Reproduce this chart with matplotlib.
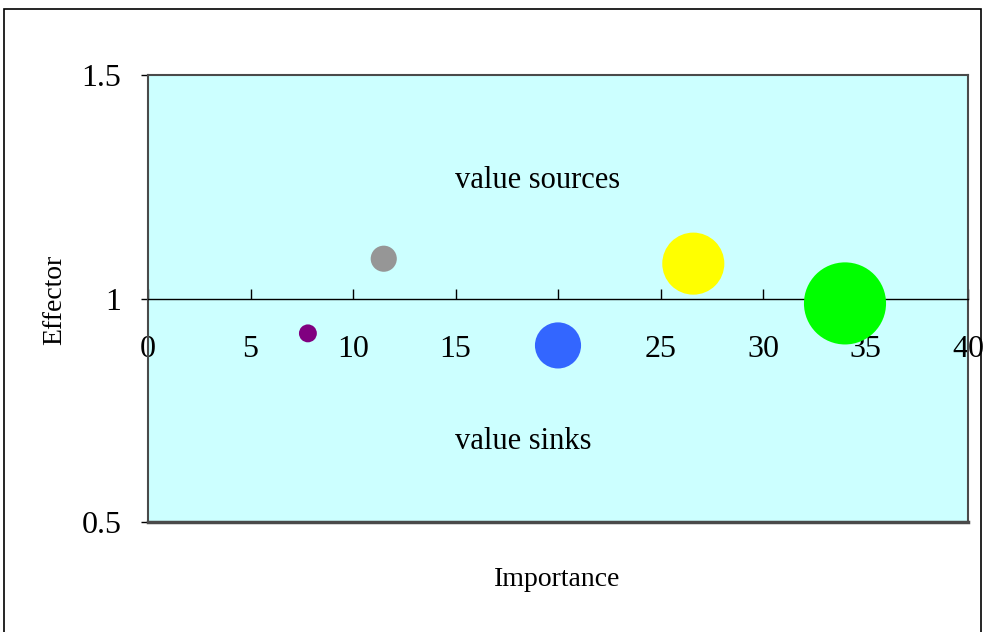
import matplotlib.pyplot as plt
from matplotlib.patches import Rectangle

# bubble data: importance, effector, bubble size
importance = [7.8, 11.5, 20.0, 26.6, 34.0]
effector = [0.922, 1.089, 0.895, 1.078, 0.989]
bubble_size = [8, 17, 53, 96, 168]
colors = ['#800080', '#969696', '#3366FF', '#FFFF00', '#00FF00']

x_ticks = [0, 5, 10, 15, 20, 25, 30, 35, 40]
y_ticks = [0.5, 1, 1.5]

plt.rcParams['font.family'] = ['Liberation Serif', 'DejaVu Serif']

fig = plt.figure(figsize=(9.84, 6.32), dpi=100)
ax = fig.add_axes([148/984, 1-522/632, 820/984, 447/632])
ax.set_facecolor('#CCFFFF')
ax.set_xlim(0, 40)
ax.set_ylim(0.5, 1.5)

# outer frame of the chart
fig.patches.append(Rectangle((4/984, -0.1), 977/984, 1.1-9/632, transform=fig.transFigure,
                             fill=False, edgecolor='black', linewidth=1.2))

ax.scatter(importance, effector, s=[v*20.8 for v in bubble_size], c=colors,
           edgecolors='none', zorder=3)

# x axis crosses at effector = 1
ax.spines['bottom'].set_position(('data', 1))
ax.spines['bottom'].set_color('black')
ax.spines['bottom'].set_linewidth(1.0)
for side in ['left', 'top', 'right']:
    ax.spines[side].set_color('#4a4a4a')
    ax.spines[side].set_linewidth(1.5)
ax.axhline(0.5, color='#4a4a4a', linewidth=2.5, clip_on=False, zorder=4)

ax.set_xticks(x_ticks)
ax.set_xticklabels([str(t) for t in x_ticks])
ax.set_yticks(y_ticks)
ax.set_yticklabels(['0.5', '1', '1.5'])
ax.tick_params(axis='x', direction='in', length=7, width=1, pad=26, labelsize=23)
ax.tick_params(axis='y', direction='out', length=5, width=1, pad=14, labelsize=23)

ax.text(19.0, 1.265, 'value sources', ha='center', va='center', fontsize=22)
ax.text(18.3, 0.68, 'value sinks', ha='center', va='center', fontsize=22)

fig.text(557/984, 1-580/632, 'Importance', ha='center', va='center', fontsize=20)
fig.text(55/984, 1-300/632, 'Effector', ha='center', va='center', rotation=90, fontsize=20)

fig.savefig('out.png', dpi=100)
